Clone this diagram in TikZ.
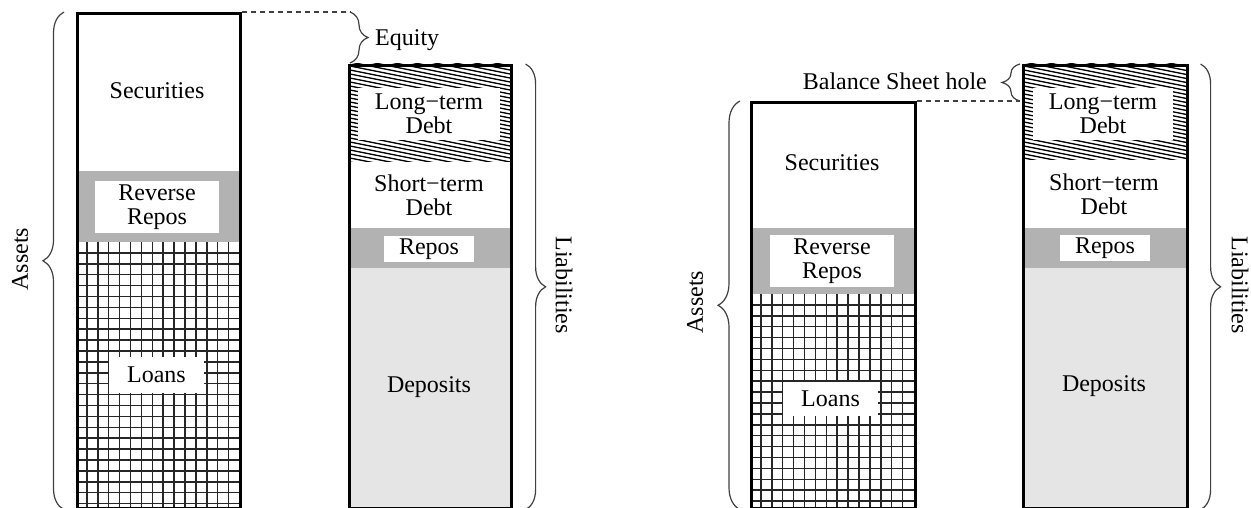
\documentclass[tikz,border=0pt]{standalone}
\usepackage{fontspec}
\setmainfont{Liberation Serif}
\usetikzlibrary{decorations.pathreplacing}
\begin{document}
\begin{tikzpicture}[x=1pt,y=-1pt,
  lbl/.style={font=\fontsize{24}{24}\selectfont, align=center, inner sep=0pt},
  whitebox/.style={lbl, fill=white},
  frame/.style={draw=black, line width=2.6pt, inner sep=0pt, anchor=north west},
  bandgray/.style={fill=black!30},
  depgray/.style={fill=black!10},
  gridline/.style={draw=black!85, line width=1.5pt},
  hatchline/.style={draw=black, line width=1.3pt},
  bracestyle/.style={draw=black!75, line width=1.2pt, decorate, decoration={brace, amplitude=#1}},
  dashline/.style={draw=black!75, line width=1.2pt, dash pattern=on 5pt off 4pt}]

\fill[white] (0,0) rectangle (1251,508);
\useasboundingbox (0,0) rectangle (1251,508);

% ---------------- left panel: assets ----------------
\fill[bandgray] (76,171) rectangle (239,242);
\foreach \k in {1,...,14} \draw[gridline] (76+\k*10.9,242) -- (76+\k*10.9,507);
\foreach \k in {1,...,24} \draw[gridline] (76,242+\k*10.9) -- (239,242+\k*10.9);
\node[lbl] (sec1) at (157,91) {Securities};
\node[whitebox, minimum width=124, minimum height=52] (rr1) at (157,207) {Reverse\\Repos};
\node[whitebox, minimum width=95, minimum height=36] (loans1) at (156.5,375) {Loans};
\node[frame, minimum width=163, minimum height=495] (A1) at (76,12) {};

% ---------------- left panel: liabilities ----------------
\begin{scope}
  \clip (348,64) rectangle (510,162);
  \foreach \i in {0,...,36} \draw[hatchline] (340,24+\i*4) -- (520,60+\i*4);
\end{scope}
\fill[bandgray] (348,228) rectangle (510,268);
\fill[depgray] (348,268) rectangle (510,507);
\node[whitebox, minimum width=142, minimum height=52] (lt1) at (429,114) {Long−term\\Debt};
\node[lbl] (st1) at (429,195) {Short−term\\Debt};
\node[whitebox, minimum width=90, minimum height=26] (rp1) at (429,249) {Repos};
\node[lbl] (dep1) at (429,387) {Deposits};
\node[frame, minimum width=162, minimum height=443] (L1) at (348,64) {};

% braces and labels, left
\draw[bracestyle=21] ([xshift=-12pt]A1.south west) -- ([xshift=-12pt]A1.north west);
\node[lbl, rotate=90] (assets1) at (20,259) {Assets};
\draw[bracestyle=20] ([xshift=13pt]L1.north east) -- ([xshift=13pt]L1.south east);
\node[lbl, rotate=-90] (liab1) at (564,285) {Liabilities};
\coordinate (eqtop) at (350,12);
\coordinate (eqbot) at (350,63);
\draw[dashline] (A1.north east) -- (eqtop);
\draw[bracestyle=18] (eqtop) -- (eqbot);
\node[lbl, anchor=west] (equity) at (375,40) {Equity};

% ---------------- right panel: assets ----------------
\fill[bandgray] (750,228) rectangle (914,294);
\foreach \k in {1,...,14} \draw[gridline] (750+\k*10.9,294) -- (750+\k*10.9,507);
\foreach \k in {1,...,19} \draw[gridline] (750,294+\k*10.9) -- (914,294+\k*10.9);
\node[lbl] (sec2) at (832,163) {Securities};
\node[whitebox, minimum width=124, minimum height=52] (rr2) at (832,261) {Reverse\\Repos};
\node[whitebox, minimum width=95, minimum height=34] (loans2) at (830.5,399) {Loans};
\node[frame, minimum width=164, minimum height=406] (A2) at (750,101) {};

% ---------------- right panel: liabilities ----------------
\begin{scope}
  \clip (1022,64) rectangle (1186,160);
  \foreach \i in {0,...,36} \draw[hatchline] (1014,24+\i*4) -- (1194,60+\i*4);
\end{scope}
\fill[bandgray] (1022,228) rectangle (1186,268);
\fill[depgray] (1022,268) rectangle (1186,507);
\node[whitebox, minimum width=140, minimum height=52] (lt2) at (1103,114) {Long−term\\Debt};
\node[lbl] (st2) at (1104,194) {Short−term\\Debt};
\node[whitebox, minimum width=90, minimum height=26] (rp2) at (1105,248) {Repos};
\node[lbl] (dep2) at (1104,386) {Deposits};
\node[frame, minimum width=164, minimum height=443] (L2) at (1022,64) {};

% braces and labels, right
\draw[bracestyle=22] ([xshift=-10pt]A2.south west) -- ([xshift=-10pt]A2.north west);
\node[lbl, rotate=90] (assets2) at (695,302) {Assets};
\draw[bracestyle=20] ([xshift=12pt]L2.north east) -- ([xshift=12pt]L2.south east);
\node[lbl, rotate=-90] (liab2) at (1240,285) {Liabilities};
\coordinate (bshbot) at (1020,101);
\coordinate (bshtop) at (1020,64);
\draw[dashline] (A2.north east) -- (bshbot);
\draw[bracestyle=18] (bshbot) -- (bshtop);
\node[lbl, anchor=east] (bsh) at (987,81) {Balance Sheet hole};
\end{tikzpicture}
\end{document}
